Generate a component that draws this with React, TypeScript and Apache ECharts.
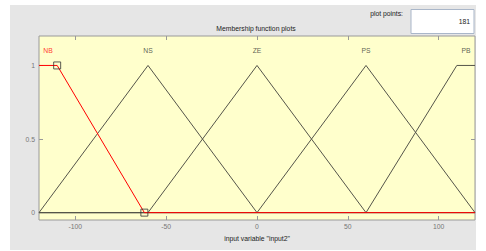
import React, { useEffect, useRef } from "react";
import * as echarts from "echarts";

const mfNames = ["NB", "NS", "ZE", "PS", "PB"];
const nbX = [-120, -110, -62, 120];
const nbY = [1, 1, 0, 0];
const nsX = [-120, -60, 0, 120];
const nsY = [0, 1, 0, 0];
const zeX = [-120, -60, 0, 60, 120];
const zeY = [0, 0, 1, 0, 0];
const psX = [-120, 0, 60, 120];
const psY = [0, 0, 1, 0];
const pbX = [-120, 60, 110, 120];
const pbY = [0, 0, 1, 1];
const labelX = [-115, -60, 0, 60, 115];
const labelY = 1.1;
const markerX = [-110, -62];
const markerY = [1, 0];
const xTicks = [-100, -50, 0, 50, 100];
const yTicks = [0, 0.5, 1];
const plotPoints = "181";

const FONT = "Liberation Sans";
const FS = 6.8;

function pts(xs: number[], ys: number[]) {
  return xs.map((x, i) => [x, ys[i]]);
}

export default function App() {
  const ref = useRef<HTMLDivElement>(null);
  useEffect(() => {
    if (!ref.current) return;
    const chart = echarts.init(ref.current, undefined, { renderer: "svg" });
    const dark = "#55554a";
    const mkLine = (name: string, xs: number[], ys: number[], color: string, z: number) => ({
      type: "line",
      name,
      data: pts(xs, ys),
      showSymbol: false,
      symbol: "none",
      lineStyle: { color, width: 1 },
      z,
    });
    const xAxisBase = {
      type: "value",
      min: -120,
      max: 120,
      splitLine: { show: false },
      axisLine: { show: false, onZero: false },
      axisTick: { show: true, inside: true, length: 4, lineStyle: { color: "#999" }, customValues: xTicks },
    };
    const yAxisBase = {
      type: "value",
      min: -0.05,
      max: 1.2,
      splitLine: { show: false },
      axisLine: { show: false, onZero: false },
      axisTick: { show: true, inside: true, length: 4, lineStyle: { color: "#999" }, customValues: yTicks },
    };
    chart.setOption({
      animation: false,
      backgroundColor: "#ffffff",
      title: {
        text: "Membership function plots",
        left: 256,
        textAlign: "center",
        top: 25,
        padding: 0,
        textStyle: { fontFamily: FONT, fontSize: FS, fontWeight: "normal", color: "#222" },
      },
      graphic: [
        { type: "rect", z: -10, shape: { x: 10, y: 5, width: 466, height: 245 }, style: { fill: "#e6e6e6" }, silent: true },
        { type: "text", x: 403, y: 13, style: { text: "plot points:", fontFamily: FONT, fontSize: FS, fill: "#222", align: "right", verticalAlign: "middle" } },
        { type: "rect", shape: { x: 411, y: 9.5, width: 63, height: 24 }, style: { fill: "#fff", stroke: "#a9b6c9", lineWidth: 1 } },
        { type: "text", x: 470, y: 21, style: { text: plotPoints, fontFamily: FONT, fontSize: FS, fill: "#222", align: "right", verticalAlign: "middle" } },
      ],
      grid: {
        left: 39,
        top: 36,
        right: 11,
        bottom: 31,
        show: true,
        backgroundColor: "#ffffcc",
        borderColor: "#9a9a9a",
        borderWidth: 1,
      },
      xAxis: [
        {
          ...xAxisBase,
          position: "bottom",
          name: 'input variable "input2"',
          nameLocation: "middle",
          nameGap: 15,
          nameTextStyle: { fontFamily: FONT, fontSize: FS, color: "#222" },
          axisLabel: { show: true, margin: 3, fontFamily: FONT, fontSize: FS, color: "#777", customValues: xTicks },
        },
        { ...xAxisBase, position: "top", axisLabel: { show: false } },
      ],
      yAxis: [
        {
          ...yAxisBase,
          position: "left",
          axisLabel: { show: true, margin: 4, fontFamily: FONT, fontSize: FS, color: "#777", customValues: yTicks },
        },
        { ...yAxisBase, position: "right", axisLabel: { show: false } },
      ],
      series: [
        mkLine("NS", nsX, nsY, dark, 2),
        mkLine("ZE", zeX, zeY, dark, 2),
        mkLine("PS", psX, psY, dark, 2),
        mkLine("PB", pbX, pbY, dark, 2),
        mkLine("NB", nbX, nbY, "#ff0000", 3),
        {
          type: "scatter",
          data: pts(markerX, markerY),
          symbol: "rect",
          symbolSize: 7,
          itemStyle: { color: "rgba(0,0,0,0)", borderColor: "#333", borderWidth: 1 },
          z: 4,
        },
        {
          type: "scatter",
          data: mfNames.map((n, i) => ({
            value: [labelX[i], labelY],
            name: n,
            label: { color: i === 0 ? "#ff0000" : "#333" },
          })),
          symbolSize: 0,
          label: {
            show: true,
            position: "inside",
            formatter: (p: any) => p.name,
            fontFamily: FONT,
            fontSize: FS,
          },
          z: 5,
        },
      ],
    });
    return () => chart.dispose();
  }, []);
  return <div ref={ref} style={{ position: "absolute", left: 0, top: 0, width: 486, height: 251 }} />;
}
